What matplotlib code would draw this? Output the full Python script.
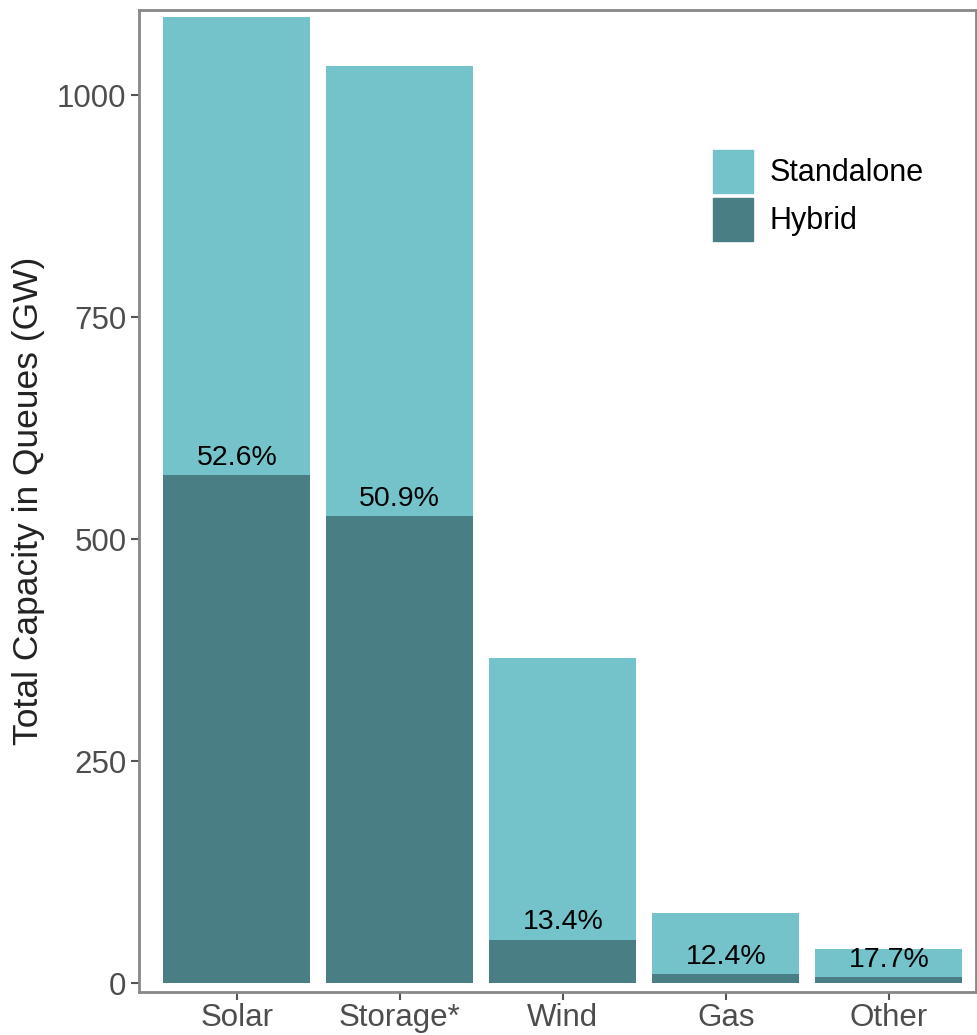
import matplotlib
matplotlib.use("Agg")
import matplotlib.pyplot as plt
from matplotlib.patches import Patch

plt.rcParams['font.family'] = ['Liberation Sans', 'DejaVu Sans']

categories = ["Solar", "Storage*", "Wind", "Gas", "Other"]
total_gw = [1088, 1033, 366, 79, 38]
hybrid_gw = [572, 526, 49, 9.8, 6.7]
hybrid_pct = ["52.6%", "50.9%", "13.4%", "12.4%", "17.7%"]

c_stand = "#74C3CA"
c_hyb = "#487E84"

fig = plt.figure(figsize=(9.77, 10.35), dpi=100)
ax = fig.add_axes([139/977, 43/1035, 837/977, 982/1035])

x = list(range(1, len(categories) + 1))
ax.bar(x, total_gw, width=0.9, color=c_stand)
ax.bar(x, hybrid_gw, width=0.9, color=c_hyb)

for xi, h, lab in zip(x, hybrid_gw, hybrid_pct):
    ax.annotate(lab, (xi, h), xytext=(0, 3), textcoords="offset points",
                ha="center", va="bottom", fontsize=20.5, color="black")

ax.set_xlim(0.4, 5.535)
ax.set_ylim(-10, 1096)
ax.set_xticks(x)
ax.set_xticklabels(categories)
ax.set_yticks([0, 250, 500, 750, 1000])
ax.tick_params(labelsize=22.5, colors="#555555", labelcolor="#4D4D4D", length=6, width=1.5, pad=3)
ax.tick_params(axis="x", pad=2)
for s in ax.spines.values():
    s.set_color("#888888")
    s.set_linewidth(2)

ax.set_ylabel("Total Capacity in Queues (GW)", fontsize=25.5, color="#222222")
ax.yaxis.set_label_coords(-0.112, 0.5)

handles = [Patch(color=c_stand, label="Standalone"), Patch(color=c_hyb, label="Hybrid")]
ax.legend(handles=handles, loc="upper left", bbox_to_anchor=(713/977, 1 - 150/1035),
          bbox_transform=fig.transFigure, frameon=False, fontsize=22,
          handlelength=1.31, handleheight=1.79, labelspacing=0.15, handletextpad=0.55,
          borderpad=0, borderaxespad=0)

fig.savefig("out.png", dpi=100)
